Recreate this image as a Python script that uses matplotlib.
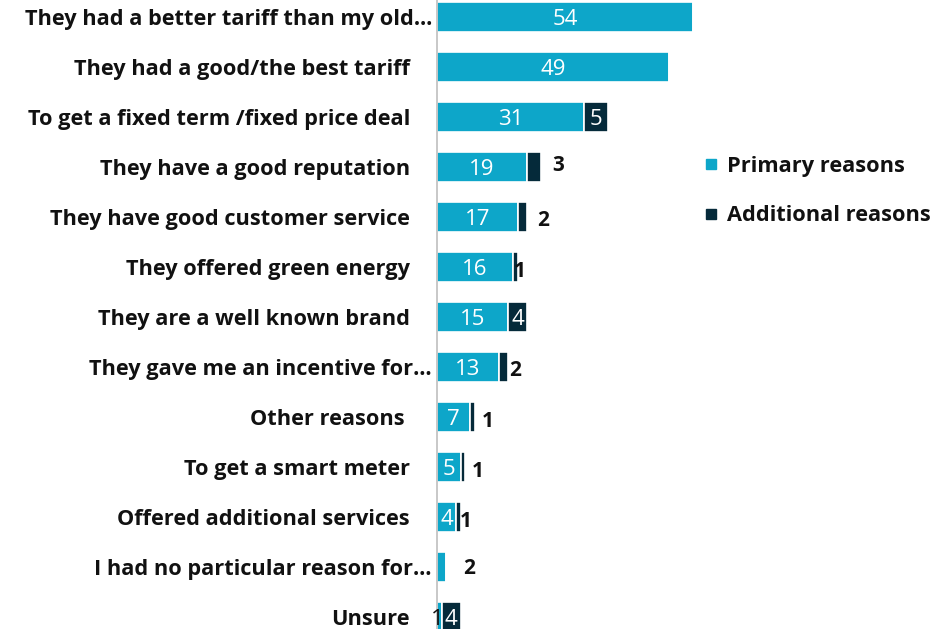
import matplotlib
matplotlib.use("Agg")
import matplotlib.pyplot as plt
from matplotlib.lines import Line2D
from matplotlib.transforms import blended_transform_factory

# reasons for choosing the new supplier (%)
reasons = [
    "They had a better tariff than my old\u2026",
    "They had a good/the best tariff",
    "To get a fixed term /fixed price deal",
    "They have a good reputation",
    "They have good customer service",
    "They offered green energy",
    "They are a well known brand",
    "They gave me an incentive for\u2026",
    "Other reasons ",
    "To get a smart meter",
    "Offered additional services",
    "I had no particular reason for\u2026",
    "Unsure",
]
primary = [54, 49, 31, 19, 17, 16, 15, 13, 7, 5, 4, 2, 1]
additional = [0, 0, 5, 3, 2, 1, 4, 2, 1, 1, 1, 0, 4]

TEAL = "#0DA6C9"
NAVY = "#052A3A"
INK = "#111111"
FONT = "Open Sans"

W, H = 951, 629
fig = plt.figure(figsize=(W / 100, H / 100), dpi=100)
x0 = 437
px_per_unit = 4.74
ax = fig.add_axes([x0 / W, 0, 1 - x0 / W, 1])

n = len(reasons)
ys = list(range(n))
ax.barh(ys, primary, height=0.6, color=TEAL, edgecolor="white", linewidth=1.2)
ax.barh(ys, additional, left=primary, height=0.6, color=NAVY,
        edgecolor="white", linewidth=1.2)

ax.set_xlim(0, (W - x0) / px_per_unit)
# first bar centre at 17 px, 50 px between bars
ax.set_ylim((H - 17) / 50, -17 / 50)
ax.set_xticks([])
ax.set_yticks([])
for s in ["top", "right", "bottom"]:
    ax.spines[s].set_visible(False)
ax.spines["left"].set_color("#BFBFBF")
ax.spines["left"].set_linewidth(1.2)

# category labels, right aligned left of the axis
lab_tr = blended_transform_factory(fig.transFigure, ax.transData)
for y, r in zip(ys, reasons):
    xr = 432 if r.endswith("\u2026") else 410
    ax.text(xr / W, y, r, transform=lab_tr, ha="right", va="center_baseline",
            fontsize=15.7, fontweight="bold", color=INK, family=FONT)

# primary values inside the bars
for y, p in zip(ys, primary):
    if p >= 4:
        ax.text(p / 2, y, str(p), ha="center", va="center_baseline",
                color="white", fontsize=16, family=FONT)

# additional values: white inside wide dark bars, black outside otherwise
out_dx = [0, 0, 0, 17, 16, 2, 0, 7, 13, 12, 5, 0, 0]
out_dy = [0, 0, 0, -4, 1, 2, 0, 1, 2, 2, 2, -1, 0]
for y, p, a, dx, dy in zip(ys, primary, additional, out_dx, out_dy):
    if a == 0:
        continue
    if a >= 4:
        ax.text(p + a / 2, y, str(a), ha="center", va="center_baseline",
                color="white", fontsize=16, family=FONT)
    else:
        ax.annotate(str(a), (p + a, y), xytext=(dx * 0.72, -dy * 0.72),
                    textcoords="offset points", ha="center",
                    va="center_baseline", fontsize=15, fontweight="bold",
                    color=INK, family=FONT)

# row with no additional share: primary value written outside
ax.annotate(str(primary[11]), (primary[11], 11), xytext=(23 * 0.72, 1 * 0.72),
            textcoords="offset points", ha="center", va="center_baseline",
            fontsize=15, fontweight="bold", color=INK, family=FONT)
# unsure: primary value sits on the axis
ax.text(0, 12, str(primary[12]), ha="center", va="center_baseline",
        color=INK, fontsize=16, family=FONT)

handles = [
    Line2D([], [], marker="s", linestyle="none", color=TEAL, markersize=7),
    Line2D([], [], marker="s", linestyle="none", color=NAVY, markersize=7),
]
leg = fig.legend(handles, ["Primary reasons", "Additional reasons"],
                 loc="center left", bbox_to_anchor=(703 / W, 1 - 191 / H),
                 frameon=False, handlelength=0.7, handletextpad=0.4,
                 labelspacing=1.3, borderaxespad=0, borderpad=0,
                 prop={"family": FONT, "weight": "bold", "size": 15.7})
for t in leg.get_texts():
    t.set_color(INK)

fig.savefig("out.png", dpi=100)
